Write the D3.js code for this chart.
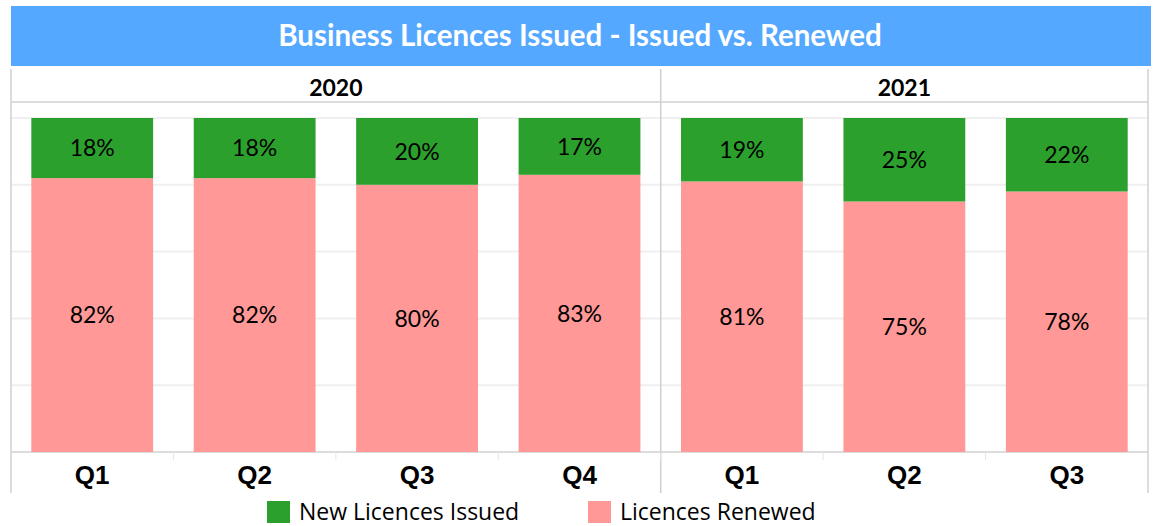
<!DOCTYPE html>
<html lang="en">
<head>
  <meta charset="UTF-8">
  <title>Business Licences Issued - Issued vs. Renewed</title>
  <script src="https://cdn.jsdelivr.net/npm/d3@7"></script>
  <style>
    body { margin: 0; background: #fff; }
  </style>
</head>
<body>
  <div id="chart"></div>

  <script>
    // Data
    var years = ["2020", "2021"];
    var yearOf = ["2020", "2020", "2020", "2020", "2021", "2021", "2021"];
    var quarters = ["Q1", "Q2", "Q3", "Q4", "Q1", "Q2", "Q3"];
    var newIssued = [18, 18, 20, 17, 19, 25, 22];
    var renewed = [82, 82, 80, 83, 81, 75, 78];
    var seriesNames = ["New Licences Issued", "Licences Renewed"];
    var yTicks = [0, 20, 40, 60, 80, 100];

    var W = 1153, H = 526;
    var left = 11, right = 1148;
    var plotTop = 118, plotBottom = 452;
    var frameTop = 69, frameBottom = 493, headerLine = 102;
    var green = "#2ca02c", pink = "#ff9896";
    var frameColor = "#d0d0d0";
    var labelFont = "Lato, 'Open Sans', sans-serif";

    var svg = d3.select("#chart")
      .append("svg")
      .attr("width", W)
      .attr("height", H);

    // One band per quarter, across both years
    var keys = quarters.map((q, i) => yearOf[i] + " " + q);
    var x = d3.scaleBand()
      .domain(keys)
      .range([left, right])
      .paddingInner(0.25)
      .paddingOuter(0.125);

    var y = d3.scaleLinear()
      .domain([0, 100])
      .range([plotBottom, plotTop]);

    // Title banner
    svg.append("rect")
      .attr("x", 11).attr("y", 6)
      .attr("width", 1140).attr("height", 60)
      .attr("fill", "#55a8ff");
    svg.append("text")
      .attr("x", 580).attr("y", 46)
      .attr("text-anchor", "middle")
      .style("font-family", labelFont)
      .style("font-weight", "bold")
      .style("font-size", "29.5px")
      .style("fill", "#fff")
      .text("Business Licences Issued - Issued vs. Renewed");

    // Gridlines
    svg.append("g")
      .selectAll("line")
      .data(yTicks.slice(1))
      .enter()
      .append("line")
      .attr("x1", left).attr("x2", right)
      .attr("y1", d => y(d)).attr("y2", d => y(d))
      .attr("stroke", "#efefef")
      .attr("stroke-width", 2);

    // Year panels: edges from the band scale
    var step = x.step();
    var panels = years.map(function (yr) {
      var idx = keys.filter(k => k.startsWith(yr)).map(k => keys.indexOf(k));
      var x0 = left + step * idx[0];
      var x1 = left + step * (idx[idx.length - 1] + 1);
      return { year: yr, x0: x0, x1: x1 };
    });

    var frame = svg.append("g")
      .attr("stroke", frameColor)
      .attr("stroke-width", 1.5);

    frame.append("line")
      .attr("x1", left).attr("x2", right)
      .attr("y1", headerLine).attr("y2", headerLine);
    frame.append("line")
      .attr("x1", left).attr("x2", right)
      .attr("y1", plotBottom).attr("y2", plotBottom);

    // Vertical frame lines at panel edges
    var edges = [panels[0].x0].concat(panels.map(p => p.x1));
    frame.selectAll(".edge")
      .data(edges)
      .enter()
      .append("line")
      .attr("x1", d => d).attr("x2", d => d)
      .attr("y1", frameTop).attr("y2", frameBottom);

    // Small ticks between quarters
    var inner = d3.range(1, keys.length).map(i => left + step * i);
    svg.append("g")
      .selectAll("line")
      .data(inner)
      .enter()
      .append("line")
      .attr("x1", d => d).attr("x2", d => d)
      .attr("y1", plotBottom).attr("y2", plotBottom + 8)
      .attr("stroke", "#e6e6e6")
      .attr("stroke-width", 1);

    // Year labels
    svg.append("g")
      .selectAll("text")
      .data(panels)
      .enter()
      .append("text")
      .attr("x", d => (d.x0 + d.x1) / 2)
      .attr("y", 96)
      .attr("text-anchor", "middle")
      .style("font-family", labelFont)
      .style("font-weight", "bold")
      .style("font-size", "23px")
      .style("fill", "#000")
      .text(d => d.year);

    // Stacked bars: renewed at the bottom, new on top
    var bars = svg.append("g");
    bars.selectAll(".renewed")
      .data(keys)
      .enter()
      .append("rect")
      .attr("x", d => x(d))
      .attr("width", x.bandwidth())
      .attr("y", (d, i) => y(renewed[i]))
      .attr("height", (d, i) => y(0) - y(renewed[i]))
      .attr("fill", pink);
    bars.selectAll(".new")
      .data(keys)
      .enter()
      .append("rect")
      .attr("x", d => x(d))
      .attr("width", x.bandwidth())
      .attr("y", (d, i) => y(renewed[i] + newIssued[i]))
      .attr("height", (d, i) => y(renewed[i]) - y(renewed[i] + newIssued[i]))
      .attr("fill", green);

    // Value labels
    var labels = svg.append("g")
      .style("font-family", labelFont)
      .style("font-size", "23px")
      .attr("text-anchor", "middle");
    labels.selectAll(".lr")
      .data(keys)
      .enter()
      .append("text")
      .attr("x", d => x(d) + x.bandwidth() / 2)
      .attr("y", (d, i) => y(renewed[i] / 2))
      .attr("dy", "0.36em")
      .text((d, i) => renewed[i] + "%");
    labels.selectAll(".ln")
      .data(keys)
      .enter()
      .append("text")
      .attr("x", d => x(d) + x.bandwidth() / 2)
      .attr("y", (d, i) => y(renewed[i] + newIssued[i] / 2))
      .attr("dy", "0.36em")
      .text((d, i) => newIssued[i] + "%");

    // Quarter labels
    svg.append("g")
      .selectAll("text")
      .data(keys)
      .enter()
      .append("text")
      .attr("x", d => x(d) + x.bandwidth() / 2)
      .attr("y", 484)
      .attr("text-anchor", "middle")
      .style("font-family", "'Liberation Sans', Arial, sans-serif")
      .style("font-weight", "bold")
      .style("font-size", "26px")
      .text((d, i) => quarters[i]);

    // Legend
    var legend = svg.append("g")
      .selectAll("g")
      .data(seriesNames)
      .enter()
      .append("g")
      .attr("transform", (d, i) => "translate(" + (267 + i * 321) + ",501)");
    legend.append("rect")
      .attr("width", 23).attr("height", 22)
      .attr("fill", (d, i) => i === 0 ? green : pink);
    legend.append("text")
      .attr("x", 32).attr("y", 18.5)
      .style("font-family", "'Open Sans', Lato, sans-serif")
      .style("font-size", "23px")
      .text(d => d);
  </script>
</body>
</html>
